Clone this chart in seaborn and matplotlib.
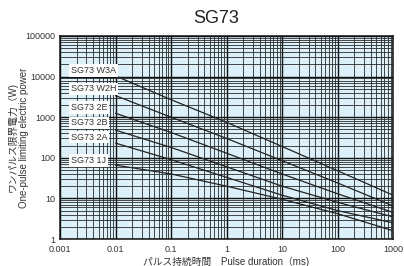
import numpy as np
import pandas as pd
import matplotlib
matplotlib.use("Agg")
import matplotlib.pyplot as plt
import seaborn as sns
from matplotlib.ticker import FixedLocator, FixedFormatter, NullFormatter, LogLocator

# ---- data ----
durations = [0.01, 0.1, 1, 10, 100, 1000]
models = ["SG73 W3A", "SG73 W2H", "SG73 2E", "SG73 2B", "SG73 2A", "SG73 1J"]
p_w3a = [10400, 2700, 750, 190, 48, 12]
p_w2h = [3400, 1000, 300, 85, 24, 6.5]
p_2e = [1250, 420, 130, 40, 13, 4.5]
p_2b = [480, 180, 60, 20, 8, 3.5]
p_2a = [230, 90, 33, 12, 5, 2.5]
p_1j = [66, 40, 20, 9.5, 4.2, 1.6]
x_ticks = [0.001, 0.01, 0.1, 1, 10, 100, 1000]
x_ticklabels = ["0.001", "0.01", "0.1", "1", "10", "100", "1000"]
y_ticks = [1, 10, 100, 1000, 10000, 100000]
y_ticklabels = ["1", "10", "100", "1000", "10000", "100000"]
label_y = [14500, 4950, 1690, 720, 325, 88]

series = [p_w3a, p_w2h, p_2e, p_2b, p_2a, p_1j]
df = pd.DataFrame({
    "duration": durations * len(models),
    "power": [v for s in series for v in s],
    "model": [m for m in models for _ in durations],
})

sns.set_style("white")
plt.rcParams["font.family"] = ["Liberation Sans", "Noto Sans CJK JP", "DejaVu Sans"]

fig = plt.figure(figsize=(4.04, 2.66), dpi=100)
ax = fig.add_axes([0.1485, 0.1015, 0.8245, 0.7632])
ax.set_facecolor("#dcf0f9")

sns.lineplot(data=df, x="duration", y="power", hue="model",
             palette=["#222222"] * len(models), legend=False, ax=ax,
             linewidth=0.9, zorder=3)

ax.set_xscale("log")
ax.set_yscale("log")
ax.set_xlim(0.001, 1000)
ax.set_ylim(1, 100000)

ax.xaxis.set_major_locator(FixedLocator(x_ticks))
ax.xaxis.set_major_formatter(FixedFormatter(x_ticklabels))
ax.yaxis.set_major_locator(FixedLocator(y_ticks))
ax.yaxis.set_major_formatter(FixedFormatter(y_ticklabels))
ax.xaxis.set_minor_locator(LogLocator(base=10, subs=np.arange(2, 10), numticks=20))
ax.yaxis.set_minor_locator(LogLocator(base=10, subs=np.arange(2, 10), numticks=20))
ax.xaxis.set_minor_formatter(NullFormatter())
ax.yaxis.set_minor_formatter(NullFormatter())

ax.grid(True, which="major", color="#111111", linewidth=1.0, zorder=1)
ax.grid(True, which="minor", color="#2a2a2a", linewidth=0.6, zorder=1)
ax.set_axisbelow(True)
ax.tick_params(axis="x", which="both", length=0, labelsize=6.5,
               labelcolor="#333333", pad=4)
ax.tick_params(axis="y", which="both", length=0, labelsize=6.5,
               labelcolor="#333333", pad=3)
for sp in ax.spines.values():
    sp.set_color("#111111")
    sp.set_linewidth(1.1)

for name, yv in zip(models, label_y):
    ax.text(0.00155, yv, name, ha="left", va="center", fontsize=6.5,
            color="#333333", zorder=4,
            bbox=dict(boxstyle="square,pad=0.22", fc="white", ec="none"))

ax.set_xlabel("パルス持続時間　Pulse duration（ms)", fontsize=7, color="#333333", labelpad=2)
ax.set_ylabel("ワンパルス限界電力（W)\nOne-pulse limiting electric power", fontsize=7,
              color="#333333", linespacing=1.2)
ax.yaxis.set_label_coords(-0.093, 0.5)
fig.text(0.535, 0.932, "SG73", ha="center", va="center", fontsize=13, color="#222222")

fig.savefig("out.png", dpi=100, facecolor="white")
